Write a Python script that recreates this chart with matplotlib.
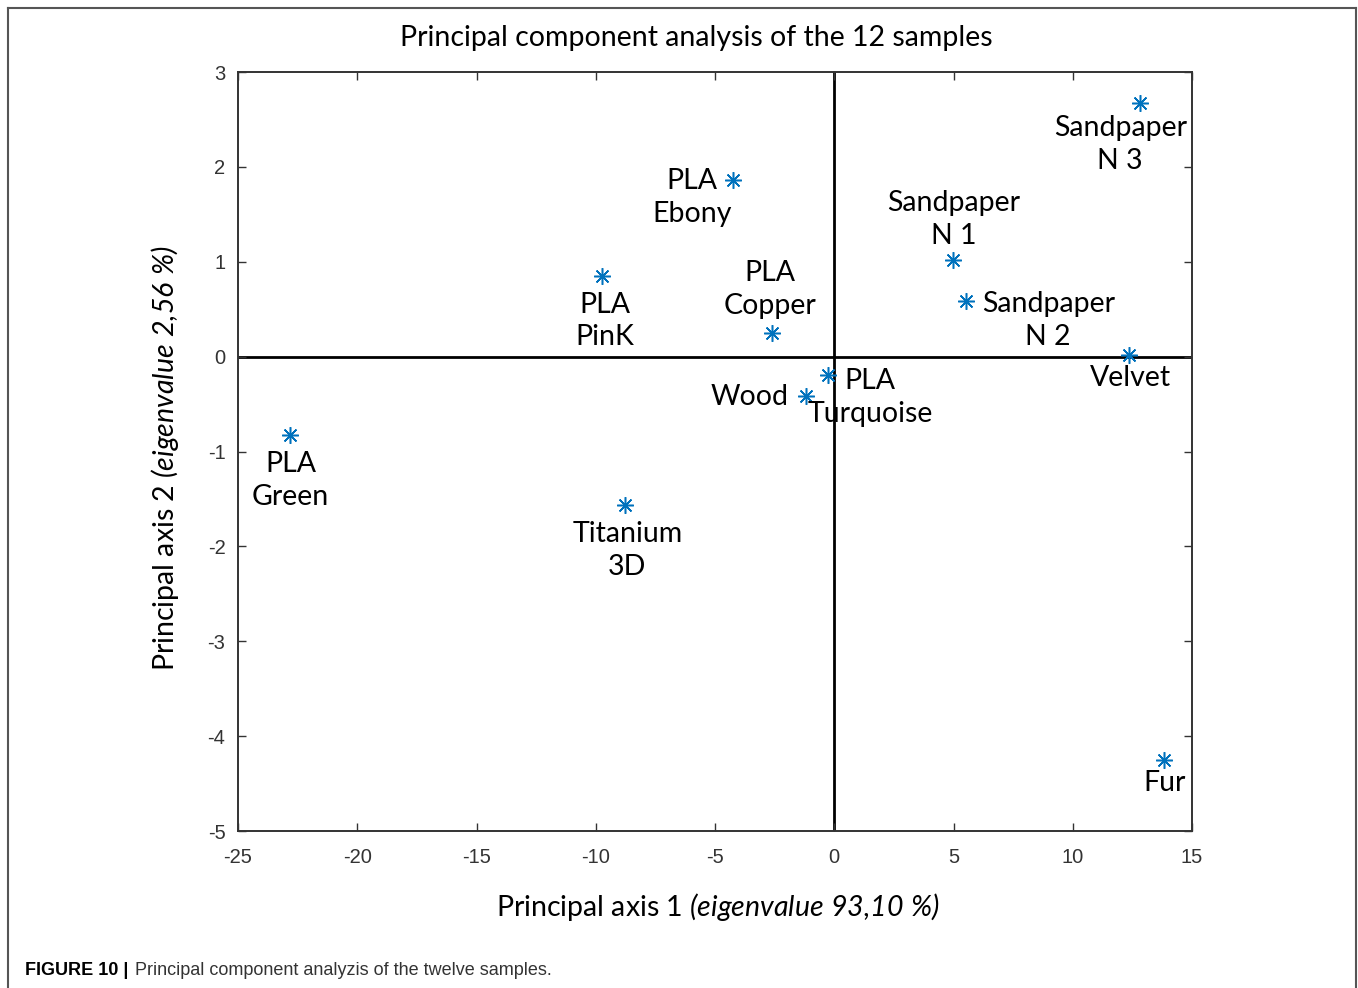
import matplotlib.pyplot as plt
from matplotlib.lines import Line2D

# mathtext only used for the italic part of the axis labels
plt.rcParams["mathtext.fontset"] = "custom"
plt.rcParams["mathtext.it"] = "Lato:italic"
plt.rcParams["mathtext.rm"] = "Lato:italic"
plt.rcParams["axes.unicode_minus"] = False

# sample names and PCA scores
names = ["PLA\nGreen", "Titanium\n3D", "PLA\nPinK", "PLA\nEbony", "PLA\nCopper",
         "Wood", "PLA\nTurquoise", "Sandpaper\nN 1", "Sandpaper\nN 2",
         "Sandpaper\nN 3", "Velvet", "Fur"]
pc1 = [-22.8, -8.76, -9.73, -4.23, -2.6, -1.17, -0.25, 4.99, 5.53, 12.83, 12.37, 13.84]
pc2 = [-0.83, -1.56, 0.85, 1.86, 0.25, -0.41, -0.19, 1.02, 0.59, 2.67, 0.02, -4.25]

# label offsets in pixels (dx right, dy down) and alignment
offsets = [(0, 45), (2, 46), (3, 45), (-41, 17), (-2, -43), (-18, 1),
           (42, 23), (0, -40), (82, 20), (-20, 41), (1, 23), (0, 23)]
has = ["center"] * 5 + ["right"] + ["center"] * 6

xticks = [-25, -20, -15, -10, -5, 0, 5, 10, 15]
yticks = [-5, -4, -3, -2, -1, 0, 1, 2, 3]

W, H = 1358, 988
fig = plt.figure(figsize=(W / 100, H / 100), dpi=100)
ax = fig.add_axes([238 / W, 1 - 831 / H, (1192 - 238) / W, (831 - 72) / H])

ax.axhline(0, color="black", lw=2, zorder=1)
ax.axvline(0, color="black", lw=2, zorder=1)
ax.plot(pc1, pc2, ls="none", marker=(8, 2, 0), ms=12, mew=1.1, color="#0072BD", zorder=3)

for name, x, y, (dx, dy), ha in zip(names, pc1, pc2, offsets, has):
    ax.annotate(name, (x, y), xytext=(dx, -dy), textcoords="offset pixels",
                ha=ha, va="center", fontsize=20.5, family="Lato",
                linespacing=1.33, zorder=4)

ax.set_xlim(-25, 15)
ax.set_ylim(-5, 3)
ax.set_xticks(xticks)
ax.set_yticks(yticks)
ax.tick_params(direction="in", top=True, right=True, length=6, width=1,
               labelsize=14.5, colors="#333333", labelcolor="#333333")
ax.tick_params(axis="x", pad=12)
ax.tick_params(axis="y", pad=9)
for lab in ax.get_xticklabels() + ax.get_yticklabels():
    lab.set_family("Liberation Sans")
for s in ax.spines.values():
    s.set_linewidth(1.4)
    s.set_color("#333333")

fig.text(696 / W, 1 - 38 / H, "Principal component analysis of the 12 samples",
         ha="center", va="center", fontsize=20.5, family="Lato")
fig.text(718 / W, 1 - 907 / H, "Principal axis 1 $(eigenvalue\\ 93{,}10\\ \\%)$",
         ha="center", va="center", fontsize=20.5, family="Lato")
fig.text(165 / W, 1 - 458 / H, "Principal axis 2 $(eigenvalue\\ 2{,}56\\ \\%)$",
         ha="center", va="center", rotation=90, fontsize=20.5, family="Lato")

# caption
fig.text(25 / W, 1 - 970 / H, "FIGURE 10 |", ha="left", va="center",
         fontsize=13, weight="bold", family=["Liberation Sans Narrow", "Liberation Sans"])
fig.text(135 / W, 1 - 970 / H, "Principal component analyzis of the twelve samples.",
         ha="left", va="center", fontsize=13, color="#333333",
         family=["Liberation Sans Narrow", "Liberation Sans"])

# outer frame
frame_kw = dict(color="#555555", lw=1.5, transform=fig.transFigure)
fig.add_artist(Line2D([8 / W, 8 / W], [0, 1 - 8 / H], **frame_kw))
fig.add_artist(Line2D([8 / W, 1356 / W], [1 - 8 / H, 1 - 8 / H], **frame_kw))
fig.add_artist(Line2D([1356 / W, 1356 / W], [0, 1 - 8 / H], **frame_kw))

fig.savefig("out.png", dpi=100)
